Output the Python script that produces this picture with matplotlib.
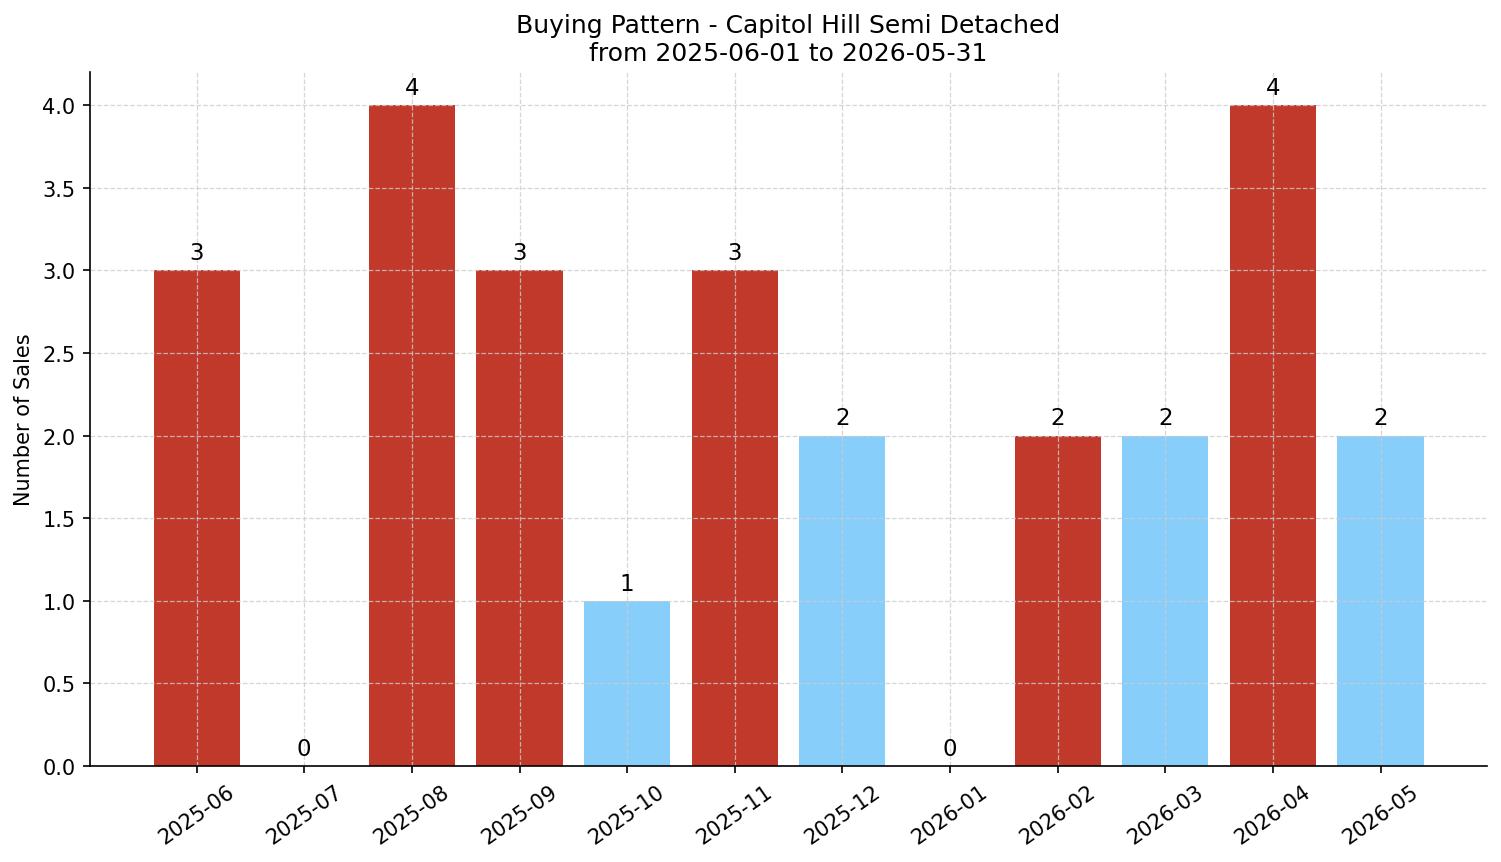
import matplotlib
matplotlib.use("Agg")
import matplotlib.pyplot as plt

months = ['2025-06', '2025-07', '2025-08', '2025-09', '2025-10', '2025-11',
          '2025-12', '2026-01', '2026-02', '2026-03', '2026-04', '2026-05']
sales = [3, 0, 4, 3, 1, 3, 2, 0, 2, 2, 4, 2]

RED = '#C0392B'
BLUE = '#87CEFA'
bar_colors = [RED, RED, RED, RED, BLUE, RED, BLUE, RED, RED, BLUE, RED, BLUE]

fig, ax = plt.subplots(figsize=(10.007, 5.753), dpi=150)

x = list(range(len(months)))
bars = ax.bar(x, sales, color=bar_colors, width=0.8)
ax.bar_label(bars, padding=3, fontsize=11)

ax.set_xticks(x)
ax.set_xticklabels(months, rotation=35, fontsize=10)
ax.tick_params(axis='y', labelsize=10)
ax.set_ylabel('Number of Sales', fontsize=10)
ax.set_title('Buying Pattern - Capitol Hill Semi Detached\nfrom 2025-06-01 to 2026-05-31',
             fontsize=12)

ax.grid(True, linestyle='--', color='#cccccc', alpha=0.8, linewidth=0.6)
ax.spines['top'].set_visible(False)
ax.spines['right'].set_visible(False)

fig.subplots_adjust(left=0.060, right=0.9907, top=0.9154, bottom=0.1112)
plt.savefig('out.png', dpi=150)
plt.close()
